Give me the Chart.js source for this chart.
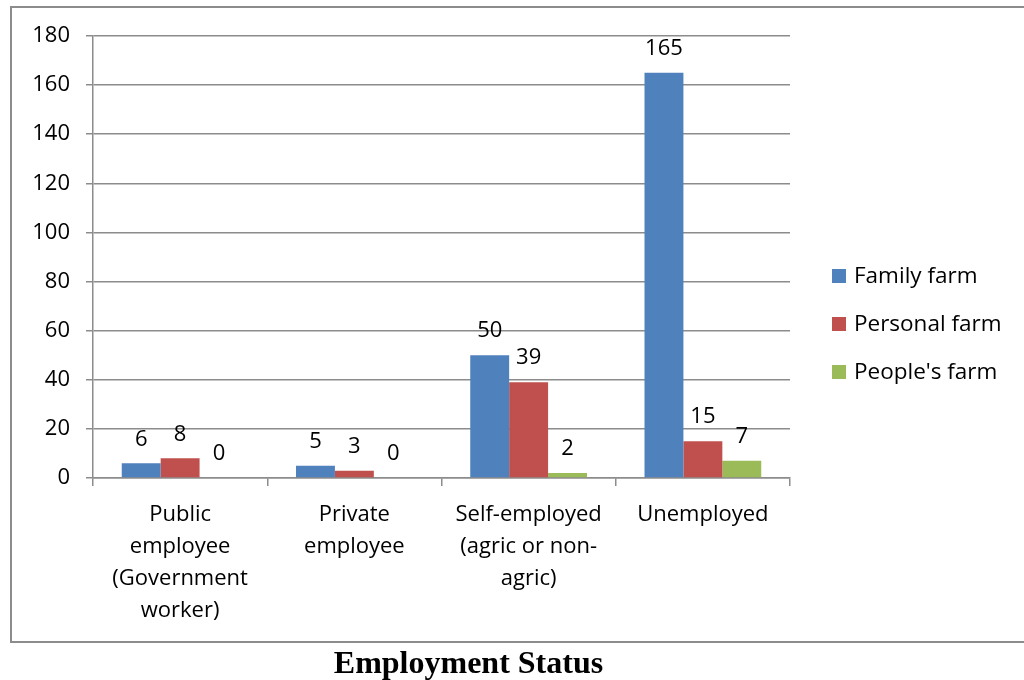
<!DOCTYPE html>
<html>
<head>
<meta charset="utf-8">
<script src="https://cdn.jsdelivr.net/npm/chart.js@4/dist/chart.umd.min.js"></script>
<style>
  html, body { margin: 0; padding: 0; background: #fff; }
  .frame { position: absolute; left: 10px; top: 6px; width: 1030px; height: 633px; border: 2px solid #8c8c8c; }
  #chart { position: absolute; left: 0; top: 0; }
  .caption { position: absolute; left: 0; width: 937px; top: 642px; text-align: center;
    font: bold 32px/40px "Liberation Serif", "Times New Roman", serif; color: #000; }
</style>
</head>
<body>
<div class="frame"></div>
<canvas id="chart" width="1024" height="680"></canvas>
<div class="caption">Employment Status</div>
<script>
const categories = [
  ['Public', 'employee', '(Government', 'worker)'],
  ['Private', 'employee'],
  ['Self-employed', '(agric or non-', 'agric)'],
  ['Unemployed']
];
const familyFarm = [6, 5, 50, 165];
const personalFarm = [8, 3, 39, 15];
const peoplesFarm = [0, 0, 2, 7];
const seriesNames = ['Family farm', 'Personal farm', "People's farm"];
const seriesColors = ['#4f81bd', '#c0504d', '#9bbb59'];

const font = '"Open Sans", "Lato", sans-serif';

// value labels above each bar
const barValues = {
  id: 'barValues',
  afterDatasetsDraw(chart) {
    const ctx = chart.ctx;
    ctx.save();
    ctx.fillStyle = '#000';
    ctx.font = '22px ' + font;
    ctx.textAlign = 'center';
    ctx.textBaseline = 'middle';
    chart.data.datasets.forEach((ds, i) => {
      chart.getDatasetMeta(i).data.forEach((bar, j) => {
        ctx.fillText(String(ds.data[j]), bar.x, bar.y - 24);
      });
    });
    ctx.restore();
  }
};

// legend on the right, stacked vertically
const sideLegend = {
  id: 'sideLegend',
  afterDraw(chart) {
    const ctx = chart.ctx;
    ctx.save();
    ctx.font = '22.5px ' + font;
    ctx.textBaseline = 'middle';
    chart.data.datasets.forEach((ds, i) => {
      const y = 276 + i * 48;
      ctx.fillStyle = ds.backgroundColor;
      ctx.fillRect(832, y - 7, 14, 14);
      ctx.fillStyle = '#000';
      ctx.fillText(ds.label, 854, y + 1);
    });
    ctx.restore();
  }
};

new Chart(document.getElementById('chart'), {
  type: 'bar',
  data: {
    labels: categories,
    datasets: [familyFarm, personalFarm, peoplesFarm].map((d, i) => ({
      label: seriesNames[i],
      data: d,
      backgroundColor: seriesColors[i],
      borderWidth: 0,
      categoryPercentage: 0.67,
      barPercentage: 1
    }))
  },
  options: {
    responsive: false,
    animation: false,
    layout: { padding: { left: 0, top: 36, right: 234, bottom: 0 } },
    plugins: {
      legend: { display: false },
      tooltip: { enabled: false }
    },
    scales: {
      x: {
        afterFit(scale) { scale.height = 202; },
        grid: { offset: true, drawOnChartArea: false, color: '#8c8c8c', tickLength: 8, lineWidth: 1.5 },
        border: { color: '#8c8c8c', width: 1.5 },
        ticks: { color: '#000', font: { family: font, size: 22, lineHeight: 1.45 }, padding: 13, maxRotation: 0, autoSkip: false }
      },
      y: {
        min: 0,
        max: 180,
        afterFit(scale) { scale.width = 93; },
        grid: { color: '#8c8c8c', tickLength: 7, lineWidth: 1.5 },
        border: { color: '#8c8c8c', width: 1.5 },
        ticks: { stepSize: 20, color: '#000', font: { family: font, size: 22 }, padding: 16 }
      }
    }
  },
  plugins: [barValues, sideLegend]
});
</script>
</body>
</html>
